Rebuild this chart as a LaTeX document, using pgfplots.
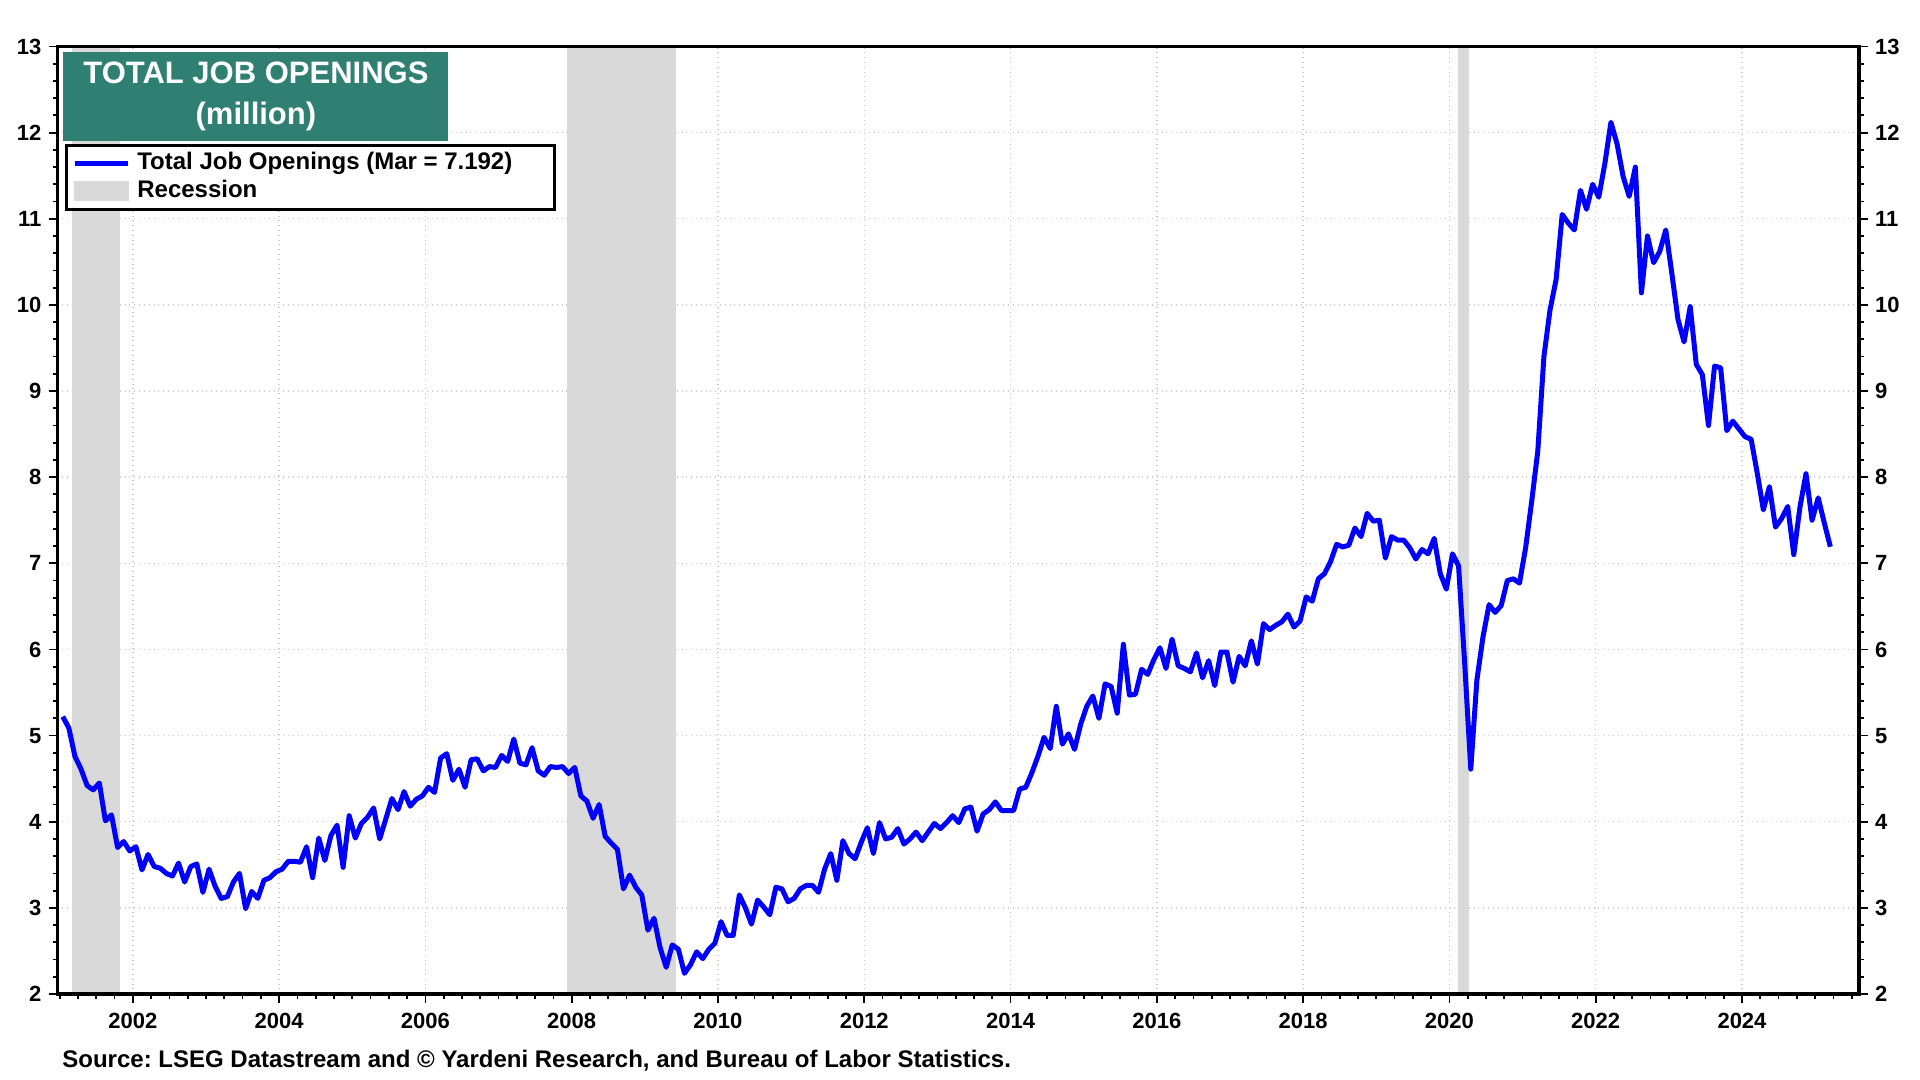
\documentclass[border=0pt]{standalone}
\usepackage{fontspec}
\setmainfont{Liberation Sans}
\usepackage{pgfplots}
\pgfplotsset{compat=1.18}
\definecolor{recgray}{RGB}{217,217,217}
\definecolor{titlegreen}{RGB}{47,127,114}
\definecolor{gridgray}{RGB}{205,205,205}
\frenchspacing
\pgfplotsset{
  common/.style={
    at={(28.75pt,43pt)}, anchor=south west,
    width=900.75pt, height=473.75pt, scale only axis,
    xmin=2000.97, xmax=2025.6, ymin=2, ymax=13,
    ytick={2,...,13}, minor y tick num=4,
    tick align=outside,
    major tick length=4.5pt, minor tick length=2.5pt,
    every tick/.style={black, line width=0.9pt},
    axis line style={black, line width=1.6pt},
    /pgf/number format/assume math mode=true,
    /pgf/number format/1000 sep={},
    tick label style={font=\fontsize{11}{13}\selectfont\bfseries},
  }
}
\begin{document}
\begin{tikzpicture}
\path[use as bounding box] (0,0) rectangle (960pt,540pt);
\begin{axis}[common,
  xtick={2002,2004,...,2024},
  minor xtick={2001,2001.25,...,2025.5},
  xtick pos=bottom, ytick pos=left,
  xticklabel style={yshift=-1.5pt},
  grid=major,
  major grid style={gridgray, dotted, line width=0.7pt},
  legend style={at={(0.0042,0.8971)}, anchor=north west, draw=black, line width=1.3pt, fill=white,
    font=\fontsize{12}{14}\selectfont\bfseries, inner xsep=3pt, inner ysep=2pt,
    nodes={text height=9pt, text depth=3pt, inner sep=1pt}, column sep=2.5pt},
  legend cell align=left,
]
\addlegendimage{legend image code/.code={\draw[blue, line width=2.5pt] (0pt,0pt) -- (26.5pt,0pt);}}
\addlegendentry{Total Job Openings (Mar = 7.192)\hspace*{17pt}}
\addlegendimage{legend image code/.code={\fill[recgray] (0pt,-4.25pt) rectangle (26.5pt,4.25pt);}}
\addlegendentry{Recession}
% recessions
\addplot[fill=recgray, draw=none, forget plot] coordinates {(2001.17,2) (2001.17,13) (2001.83,13) (2001.83,2)};
\addplot[fill=recgray, draw=none, forget plot] coordinates {(2007.93,2) (2007.93,13) (2009.42,13) (2009.42,2)};
\addplot[fill=recgray, draw=none, forget plot] coordinates {(2020.12,2) (2020.12,13) (2020.27,13) (2020.27,2)};
% total job openings, million
\addplot[blue, line width=2.5pt, line join=round, forget plot] coordinates {
(2001.042,5.22)(2001.125,5.09)(2001.208,4.76)(2001.292,4.61)(2001.375,4.42)(2001.458,4.37)
(2001.542,4.45)(2001.625,4.01)(2001.708,4.08)(2001.792,3.70)(2001.875,3.77)(2001.958,3.66)
(2002.042,3.71)(2002.125,3.44)(2002.208,3.62)(2002.292,3.48)(2002.375,3.46)(2002.458,3.40)
(2002.542,3.37)(2002.625,3.52)(2002.708,3.30)(2002.792,3.48)(2002.875,3.51)(2002.958,3.18)
(2003.042,3.45)(2003.125,3.25)(2003.208,3.11)(2003.292,3.13)(2003.375,3.30)(2003.458,3.40)
(2003.542,2.99)(2003.625,3.19)(2003.708,3.11)(2003.792,3.32)(2003.875,3.35)(2003.958,3.42)
(2004.042,3.45)(2004.125,3.54)(2004.208,3.54)(2004.292,3.53)(2004.375,3.71)(2004.458,3.35)
(2004.542,3.81)(2004.625,3.55)(2004.708,3.84)(2004.792,3.96)(2004.875,3.47)(2004.958,4.07)
(2005.042,3.81)(2005.125,3.98)(2005.208,4.05)(2005.292,4.16)(2005.375,3.80)(2005.458,4.03)
(2005.542,4.27)(2005.625,4.14)(2005.708,4.35)(2005.792,4.18)(2005.875,4.26)(2005.958,4.30)
(2006.042,4.40)(2006.125,4.34)(2006.208,4.74)(2006.292,4.79)(2006.375,4.48)(2006.458,4.61)
(2006.542,4.40)(2006.625,4.72)(2006.708,4.73)(2006.792,4.59)(2006.875,4.64)(2006.958,4.63)
(2007.042,4.77)(2007.125,4.70)(2007.208,4.96)(2007.292,4.68)(2007.375,4.66)(2007.458,4.86)
(2007.542,4.59)(2007.625,4.54)(2007.708,4.64)(2007.792,4.63)(2007.875,4.64)(2007.958,4.56)
(2008.042,4.63)(2008.125,4.30)(2008.208,4.24)(2008.292,4.04)(2008.375,4.20)(2008.458,3.83)
(2008.542,3.75)(2008.625,3.68)(2008.708,3.22)(2008.792,3.38)(2008.875,3.24)(2008.958,3.15)
(2009.042,2.74)(2009.125,2.88)(2009.208,2.54)(2009.292,2.31)(2009.375,2.57)(2009.458,2.52)
(2009.542,2.24)(2009.625,2.34)(2009.708,2.49)(2009.792,2.41)(2009.875,2.52)(2009.958,2.59)
(2010.042,2.84)(2010.125,2.68)(2010.208,2.68)(2010.292,3.15)(2010.375,3.00)(2010.458,2.81)
(2010.542,3.09)(2010.625,3.01)(2010.708,2.92)(2010.792,3.24)(2010.875,3.22)(2010.958,3.07)
(2011.042,3.11)(2011.125,3.22)(2011.208,3.26)(2011.292,3.26)(2011.375,3.18)(2011.458,3.45)
(2011.542,3.63)(2011.625,3.32)(2011.708,3.78)(2011.792,3.63)(2011.875,3.57)(2011.958,3.76)
(2012.042,3.93)(2012.125,3.63)(2012.208,3.99)(2012.292,3.80)(2012.375,3.82)(2012.458,3.92)
(2012.542,3.74)(2012.625,3.80)(2012.708,3.88)(2012.792,3.78)(2012.875,3.88)(2012.958,3.98)
(2013.042,3.92)(2013.125,3.99)(2013.208,4.07)(2013.292,3.99)(2013.375,4.15)(2013.458,4.17)
(2013.542,3.89)(2013.625,4.09)(2013.708,4.14)(2013.792,4.23)(2013.875,4.13)(2013.958,4.13)
(2014.042,4.13)(2014.125,4.38)(2014.208,4.40)(2014.292,4.57)(2014.375,4.76)(2014.458,4.98)
(2014.542,4.85)(2014.625,5.34)(2014.708,4.90)(2014.792,5.02)(2014.875,4.84)(2014.958,5.13)
(2015.042,5.34)(2015.125,5.46)(2015.208,5.20)(2015.292,5.60)(2015.375,5.57)(2015.458,5.26)
(2015.542,6.06)(2015.625,5.47)(2015.708,5.48)(2015.792,5.77)(2015.875,5.71)(2015.958,5.88)
(2016.042,6.02)(2016.125,5.78)(2016.208,6.12)(2016.292,5.81)(2016.375,5.78)(2016.458,5.74)
(2016.542,5.96)(2016.625,5.67)(2016.708,5.87)(2016.792,5.58)(2016.875,5.97)(2016.958,5.97)
(2017.042,5.62)(2017.125,5.92)(2017.208,5.81)(2017.292,6.10)(2017.375,5.83)(2017.458,6.30)
(2017.542,6.23)(2017.625,6.28)(2017.708,6.32)(2017.792,6.41)(2017.875,6.26)(2017.958,6.33)
(2018.042,6.61)(2018.125,6.56)(2018.208,6.82)(2018.292,6.88)(2018.375,7.02)(2018.458,7.22)
(2018.542,7.19)(2018.625,7.21)(2018.708,7.41)(2018.792,7.31)(2018.875,7.58)(2018.958,7.49)
(2019.042,7.50)(2019.125,7.06)(2019.208,7.31)(2019.292,7.27)(2019.375,7.27)(2019.458,7.18)
(2019.542,7.05)(2019.625,7.16)(2019.708,7.11)(2019.792,7.29)(2019.875,6.88)(2019.958,6.70)
(2020.042,7.11)(2020.125,6.97)(2020.208,5.85)(2020.292,4.61)(2020.375,5.64)(2020.458,6.14)
(2020.542,6.52)(2020.625,6.43)(2020.708,6.51)(2020.792,6.80)(2020.875,6.82)(2020.958,6.77)
(2021.042,7.18)(2021.125,7.72)(2021.208,8.30)(2021.292,9.40)(2021.375,9.94)(2021.458,10.29)
(2021.542,11.05)(2021.625,10.95)(2021.708,10.87)(2021.792,11.33)(2021.875,11.11)(2021.958,11.40)
(2022.042,11.25)(2022.125,11.64)(2022.208,12.12)(2022.292,11.87)(2022.375,11.49)(2022.458,11.26)
(2022.542,11.60)(2022.625,10.14)(2022.708,10.80)(2022.792,10.49)(2022.875,10.62)(2022.958,10.87)
(2023.042,10.36)(2023.125,9.83)(2023.208,9.57)(2023.292,9.98)(2023.375,9.31)(2023.458,9.19)
(2023.542,8.60)(2023.625,9.29)(2023.708,9.27)(2023.792,8.54)(2023.875,8.65)(2023.958,8.56)
(2024.042,8.47)(2024.125,8.44)(2024.208,8.05)(2024.292,7.62)(2024.375,7.89)(2024.458,7.42)
(2024.542,7.52)(2024.625,7.66)(2024.708,7.10)(2024.792,7.65)(2024.875,8.04)(2024.958,7.50)
(2025.042,7.76)(2025.125,7.47)(2025.208,7.192)
};
\end{axis}
\begin{axis}[common,
  xtick=\empty, ytick pos=right, yticklabel pos=right,
]
\end{axis}
\node[fill=titlegreen, text=white, font=\fontsize{15.5}{20.5}\selectfont\bfseries, align=center,
  minimum width=192.5pt, minimum height=44.5pt, anchor=north west, inner sep=0pt]
  at (31.5pt,514pt) {\rule{0pt}{0pt}TOTAL JOB OPENINGS\\(million)};
\node[anchor=base west, inner sep=0pt, font=\fontsize{12}{14}\selectfont\bfseries]
  at (31pt,6pt) {Source: LSEG Datastream and © Yardeni Research, and Bureau of Labor Statistics.};
\end{tikzpicture}
\end{document}
